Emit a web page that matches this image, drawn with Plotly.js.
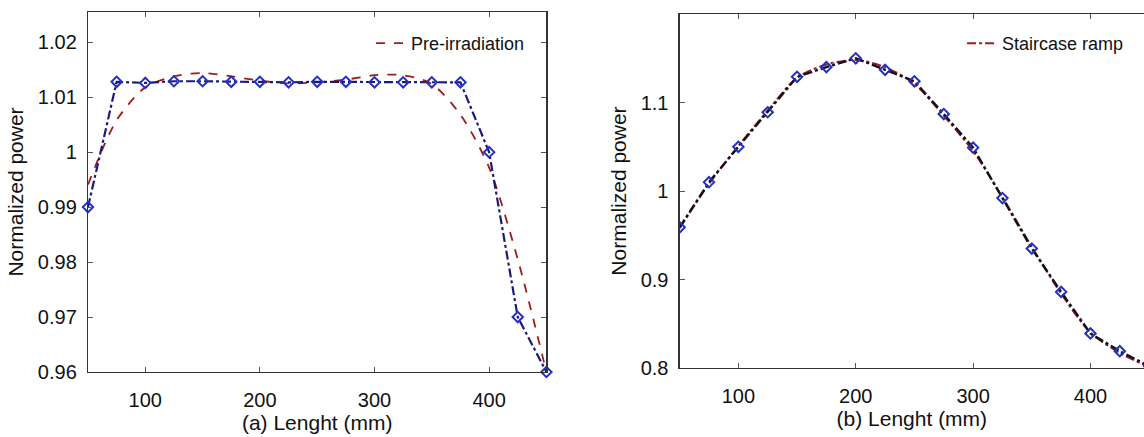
<!DOCTYPE html>
<html>
<head>
<meta charset="utf-8">
<script src="https://cdn.plot.ly/plotly-3.0.1.min.js"></script>
<style>html,body{margin:0;padding:0;background:#fff;}#chart{width:1144px;height:437px;}</style>
</head>
<body>
<div id="chart"></div>
<script>
// Positions along the length (mm)
const lengthMM = [50, 75, 100, 125, 150, 175, 200, 225, 250, 275, 300, 325, 350, 375, 400, 425, 450];

// (a) Pre-irradiation
const preIrradiation = [0.9941, 1.0058, 1.0118, 1.0138, 1.0144, 1.0138, 1.0130, 1.0125, 1.0127, 1.0132, 1.0140, 1.0140, 1.0124, 1.0068, 0.9972, 0.9805, 0.9600];
const preIrradiationSteps = [0.9900, 1.0128, 1.0126, 1.0129, 1.0129, 1.0128, 1.0128, 1.0127, 1.0128, 1.0128, 1.0127, 1.0127, 1.0127, 1.0127, 1.0000, 0.9700, 0.9600];

// (b) Staircase ramp
const staircaseRamp = [0.958, 1.008, 1.051, 1.091, 1.128, 1.143, 1.148, 1.140, 1.121, 1.085, 1.045, 0.993, 0.937, 0.884, 0.840, 0.817, 0.801];
const staircaseRampSteps = [0.959, 1.010, 1.050, 1.089, 1.129, 1.140, 1.150, 1.137, 1.124, 1.087, 1.049, 0.992, 0.935, 0.886, 0.839, 0.819, 0.802];

// Tick labels
const xTickVals = [100, 200, 300, 400];
const xTickText = ['100', '200', '300', '400'];
const yTickValsA = [0.96, 0.97, 0.98, 0.99, 1.00, 1.01, 1.02];
const yTickTextA = ['0.96', '0.97', '0.98', '0.99', '1', '1.01', '1.02'];
const yTickValsB = [0.8, 0.9, 1.0, 1.1];
const yTickTextB = ['0.8', '0.9', '1', '1.1'];

const FONT = 'Liberation Sans, Arial, Helvetica, sans-serif';
const RED = '#9e1c1c';
const NAVY = '#1a1a7a';
const BLUE = '#2430c0';

const traces = [
  {x: lengthMM, y: preIrradiation, xaxis: 'x', yaxis: 'y', mode: 'lines', name: 'Pre-irradiation',
   line: {color: RED, width: 1.8, dash: 'dash', shape: 'spline', smoothing: 0.8}, legend: 'legend', showlegend: true},
  {x: lengthMM, y: preIrradiationSteps, xaxis: 'x', yaxis: 'y', mode: 'lines+markers', name: 'steps (a)',
   line: {color: NAVY, width: 2.2, dash: 'dashdot'},
   marker: {symbol: 'diamond-open', size: 8, color: BLUE, line: {color: BLUE, width: 2}}, showlegend: false, cliponaxis: false},
  {x: lengthMM, y: staircaseRamp, xaxis: 'x2', yaxis: 'y2', mode: 'lines', name: 'Staircase ramp',
   line: {color: RED, width: 2, dash: 'dashdot', shape: 'spline', smoothing: 0.8}, legend: 'legend2', showlegend: true},
  {x: lengthMM, y: staircaseRampSteps, xaxis: 'x2', yaxis: 'y2', mode: 'lines+markers', name: 'steps (b)',
   line: {color: '#111122', width: 2.4, dash: 'dashdot'},
   marker: {symbol: 'diamond-open', size: 8, color: BLUE, line: {color: BLUE, width: 2}}, showlegend: false}
];

const axisCommon = {
  showgrid: false, zeroline: false, showline: true, linecolor: '#333', linewidth: 1.2,
  ticks: 'inside', ticklen: 5, tickwidth: 1, tickcolor: '#555',
  tickfont: {family: FONT, size: 20, color: '#111'}
};
const titleFont = {family: FONT, size: 21, color: '#111'};

const layout = {
  width: 1144, height: 437,
  margin: {l: 88, r: 0, t: 12, b: 65},
  paper_bgcolor: '#fff', plot_bgcolor: '#fff',
  font: {family: FONT, color: '#111'},
  xaxis: Object.assign({}, axisCommon, {
    domain: [0, 0.4341], range: [50, 450], anchor: 'y', mirror: 'ticks',
    tickvals: xTickVals, ticktext: xTickText, ticklabelstandoff: 10,
    title: {text: '(a) Lenght (mm)', font: titleFont, standoff: 5}
  }),
  yaxis: Object.assign({}, axisCommon, {
    domain: [0, 1], range: [0.96, 1.0255], anchor: 'x', mirror: 'ticks',
    tickvals: yTickValsA, ticktext: yTickTextA, ticklabelstandoff: 6,
    title: {text: 'Normalized power', font: titleFont, standoff: 8}
  }),
  xaxis2: Object.assign({}, axisCommon, {
    domain: [0.5603, 1], range: [50, 445.6], anchor: 'y2', mirror: 'ticks',
    tickvals: xTickVals, ticktext: xTickText, ticklabelstandoff: 10,
    title: {text: '(b) Lenght (mm)', font: titleFont, standoff: 5}
  }),
  yaxis2: Object.assign({}, axisCommon, {
    domain: [0.0111, 0.9944], range: [0.8, 1.2], anchor: 'x2', mirror: false,
    tickvals: yTickValsB, ticktext: yTickTextB, ticklabelstandoff: 6,
    title: {text: 'Normalized power', font: titleFont, standoff: 8}
  }),
  legend: {x: 0.268, xref: 'paper', y: 0.964, yref: 'paper', xanchor: 'left', yanchor: 'top',
    bgcolor: 'rgba(0,0,0,0)', font: {family: FONT, size: 18, color: '#111'}, itemwidth: 30},
  legend2: {x: 0.8277, xref: 'paper', y: 0.964, yref: 'paper', xanchor: 'left', yanchor: 'top',
    bgcolor: 'rgba(0,0,0,0)', font: {family: FONT, size: 18, color: '#111'}, itemwidth: 30},
  showlegend: true
};

Plotly.newPlot('chart', traces, layout, {displayModeBar: false, staticPlot: true});
</script>
</body>
</html>
